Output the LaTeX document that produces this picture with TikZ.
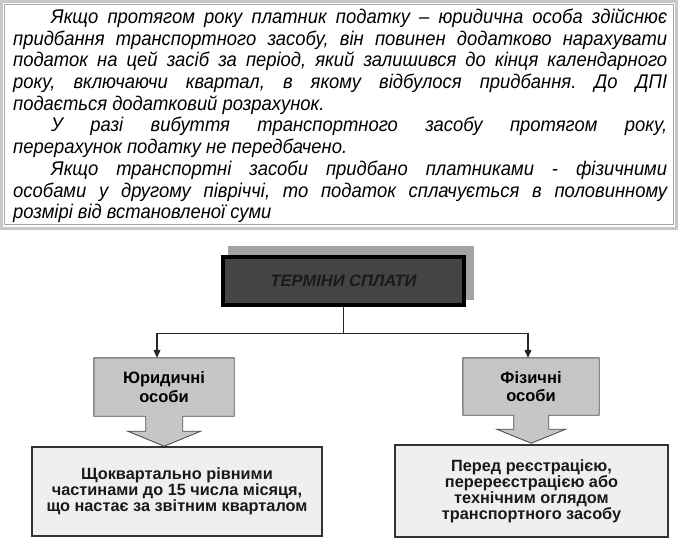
\documentclass[tikz,border=0pt]{standalone}
\usepackage{fontspec}
\setmainfont{Liberation Sans}
\newfontfamily\bodyfont{Liberation Sans}[FakeStretch=0.93]
\usetikzlibrary{arrows.meta,backgrounds}
\definecolor{framelight}{HTML}{C8C8C8}
\definecolor{frameline}{HTML}{A8A8A8}
\definecolor{shadowgrey}{HTML}{A3A3A3}
\definecolor{titlefill}{HTML}{444444}
\definecolor{titletext}{HTML}{1A1A1A}
\definecolor{calloutfill}{HTML}{C6C6C6}
\definecolor{calloutline}{HTML}{505050}
\definecolor{boxfill}{HTML}{EFEFEF}
\begin{document}
\frenchspacing
\begin{tikzpicture}[x=1pt,y=-1pt,
  txt/.style={anchor=base west,inner sep=0pt,font=\bodyfont\fontsize{19.8}{21.7}\selectfont\itshape\frenchspacing},
  titlebox/.style={draw=black,line width=3.5pt,fill=titlefill,text=titletext,
    minimum width=241pt,minimum height=48pt,inner sep=0pt,
    font=\fontsize{16.5}{18}\selectfont\bfseries\itshape},
  callouttext/.style={inner sep=0pt,align=center,
    font=\fontsize{16.5}{18.5}\selectfont\bfseries},
  calloutshape/.style={fill=calloutfill,draw=calloutline,line width=0.9pt,line join=miter},
  resultbox/.style={draw=black!80,line width=1.3pt,fill=boxfill,inner sep=0pt,align=center,
    text=black!90,font=\fontsize{16.3}{16}\selectfont\bfseries},
  conn/.style={line width=1.1pt,draw=black!85},
  tip/.style={-{Triangle[length=8pt,width=7pt]}}
]
\useasboundingbox (0,0) rectangle (678,540);

% top text frame
\draw[framelight,line width=3pt] (1.5,1.5) rectangle (676.5,228.5);
\draw[frameline,line width=0.8pt] (4.5,4.5) rectangle (673.5,224.5);

\node[txt] (l1) at (51,23.5) {\makebox[616pt][s]{Якщо протягом року платник податку – юридична особа здійснює}};
\node[txt] (l2) at (13,45.2) {\makebox[654pt][s]{придбання транспортного засобу, він повинен додатково нарахувати}};
\node[txt] (l3) at (13,66.9) {\makebox[654pt][s]{податок на цей засіб за період, який залишився до кінця календарного}};
\node[txt] (l4) at (13,88.6) {\makebox[654pt][s]{року, включаючи квартал, в якому відбулося придбання. До ДПІ}};
\node[txt] (l5) at (13,110.3) {подається додатковий розрахунок.};
\node[txt] (l6) at (51,132.0) {\makebox[616pt][s]{У разі вибуття транспортного засобу протягом року,}};
\node[txt] (l7) at (13,153.7) {перерахунок податку не передбачено.};
\node[txt] (l8) at (51,175.4) {\makebox[616pt][s]{Якщо транспортні засоби придбано платниками - фізичними}};
\node[txt] (l9) at (13,197.1) {\makebox[654pt][s]{особами у другому півріччі, то податок сплачується в половинному}};
\node[txt] (l10) at (13,218.8) {розмірі від встановленої суми};

% title with shadow
\fill[shadowgrey] (228,246) rectangle (474,300);
\node[titlebox] (title) at (343.5,281) {ТЕРМІНИ СПЛАТИ};

% callouts
\node[callouttext] (jur) at (164,387) {Юридичні\\особи};
\node[callouttext] (frk) at (531,386.5) {Фізичні\\особи};
\path (164,387) node[minimum width=140pt,minimum height=58pt,inner sep=0pt] (jurbox) {};
\path (531,386.5) node[minimum width=136pt,minimum height=57pt,inner sep=0pt] (frkbox) {};

\begin{scope}[on background layer]
\draw[calloutshape] (jurbox.north west) -- (jurbox.north east) -- (jurbox.south east)
  -- ++(-51.5,0) -- ++(0,15) -- ++(18,0) -- ++(-36.5,15) -- ++(-36.5,-15)
  -- ++(18,0) -- ++(0,-15) -- (jurbox.south west) -- cycle;
\draw[calloutshape] (frkbox.north west) -- (frkbox.north east) -- (frkbox.south east)
  -- ++(-50.5,0) -- ++(0,14) -- ++(17,0) -- ++(-34.5,14) -- ++(-34.5,-14)
  -- ++(17,0) -- ++(0,-14) -- (frkbox.south west) -- cycle;
\end{scope}

% connectors
\draw[conn] (title.south) -- ++(0,26.5) coordinate (j);
\draw[conn,tip] (j) -| ([xshift=-7pt]jurbox.north);
\draw[conn,tip] (j) -| ([xshift=-3pt]frkbox.north);

% result boxes
\node[resultbox,minimum width=290pt,minimum height=89pt] (q1) at (177,491.5)
  {Щоквартально рівними\\частинами до 15 числа місяця,\\що настає за звітним кварталом};
\node[resultbox,minimum width=273pt,minimum height=92pt] (q2) at (531.5,491)
  {Перед реєстрацією,\\перереєстрацією або\\технічним оглядом\\транспортного засобу};
\end{tikzpicture}
\end{document}
